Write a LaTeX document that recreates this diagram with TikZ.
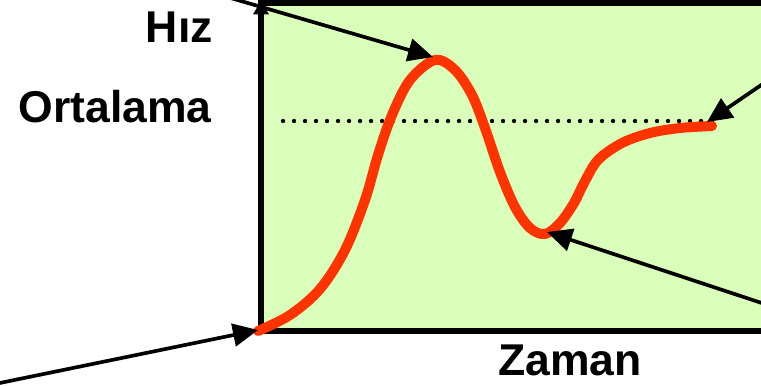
\documentclass[tikz,border=0pt]{standalone}
\usepackage{fontspec}
\setmainfont{Liberation Sans}
\usetikzlibrary{arrows.meta}
\definecolor{FieldGreen}{HTML}{DAFFBA}
\definecolor{CurveRed}{HTML}{FF3300}

\begin{document}
\begin{tikzpicture}[
  x=0.03cm, y=-0.03cm,
  axis/.style={line width=0.19cm, draw=black},
  arr/.style={-{Triangle[length=0.75cm, width=0.68cm]}, line width=0.11cm},
  curve/.style={line width=0.3cm, draw=CurveRed, line cap=round, line join=round},
  lbl/.style={font=\bfseries\fontsize{38}{40}\selectfont, inner sep=0pt}
]
  \useasboundingbox (0,0) rectangle (761,385);
  \clip (0,0) rectangle (761,385);

  % plot area
  \fill[FieldGreen] (261,3) rectangle (800,331);
  \draw[axis] (261,331) -- (261,3) -- (800,3);
  \draw[axis] (258,331) -- (800,331);
  \draw[-{Triangle[length=0.4cm, width=0.45cm]}, line width=0.19cm] (261,40) -- (261,1);

  % average level
  \draw[line width=0.13cm, line cap=round, dash pattern=on 0pt off 0.33cm] (283,121) -- (717,121);

  % speed curve
  \draw[curve] plot[smooth, tension=0.55] coordinates {
    (258,331) (290,315) (320,289) (345,250) (365,200) (378,155) (392,115)
    (410,80) (435,60) (455,70) (472,95) (485,128) (500,172) (515,207)
    (530,228) (545,234) (560,223) (574,203) (584,183) (598,160) (622,143)
    (650,133) (680,128) (712,126)};

  % labels
  \node[lbl, anchor=base east] (hiz) at (213,42) {Hız};
  \node[lbl, anchor=base east] (ort) at (212,122) {Ortalama};
  \node[lbl, anchor=base] (zaman) at (570,375) {Zaman};

  % pointer ends
  \coordinate (start) at (258,330);
  \coordinate (peak) at (433,57);
  \coordinate (dip) at (547,232);
  \coordinate (level) at (707,122);
  \coordinate (srcbl) at (-10,385);
  \coordinate (srctl) at (210,-8);
  \coordinate (srcbr) at (795,314);
  \coordinate (srctr) at (795,62);

  \draw[arr] (srcbl) -- (start);
  \draw[arr] (srctl) -- (peak);
  \draw[arr] (srcbr) -- (dip);
  \draw[arr] (srctr) -- (level);
\end{tikzpicture}
\end{document}
